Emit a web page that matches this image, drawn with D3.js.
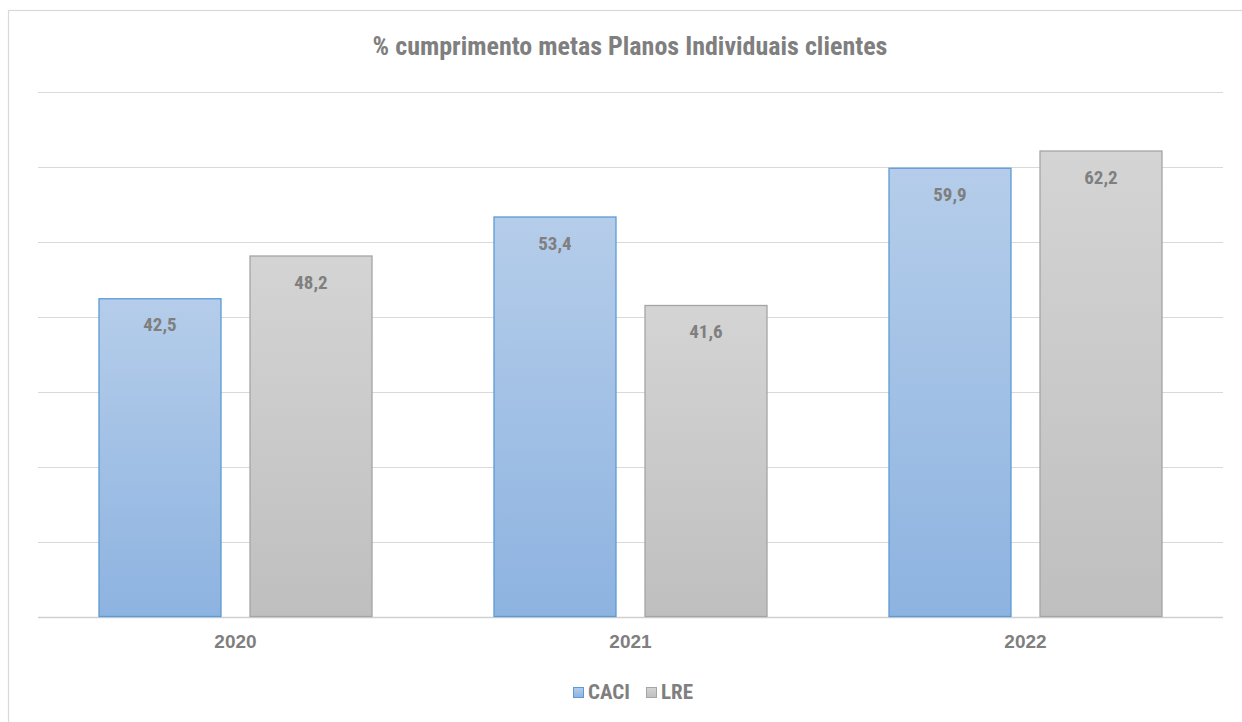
<!DOCTYPE html>
<html><head><meta charset="utf-8">
<script src="https://cdn.jsdelivr.net/npm/d3@7"></script>
<style>
body{margin:0;background:#fff;}
text{font-family:"Liberation Sans Narrow","Arial Narrow","Roboto Condensed",sans-serif;font-weight:bold;fill:#7f7f7f;}
</style></head>
<body><svg id="c" width="1242" height="722"></svg>
<script>
const title = "% cumprimento metas Planos Individuais clientes";
const categories = ["2020","2021","2022"];
const seriesNames = ["CACI","LRE"];
const caciValues = [42.5, 53.4, 59.9];
const lreValues = [48.2, 41.6, 62.2];
const yTicks = [0,10,20,30,40,50,60,70];

(function(){
const svg = d3.select("#c");
const defs = svg.append("defs");
const grads = [
  {id:"gC", top:"#b5cdea", bot:"#8db3e0", stroke:"#5b9bd5"},
  {id:"gL", top:"#d4d4d4", bot:"#bfbfbf", stroke:"#a5a5a5"}
];
grads.forEach(g=>{
  const lg = defs.append("linearGradient").attr("id",g.id).attr("x1",0).attr("y1",0).attr("x2",0).attr("y2",1);
  lg.append("stop").attr("offset","0%").attr("stop-color",g.top);
  lg.append("stop").attr("offset","100%").attr("stop-color",g.bot);
});

// outer border
svg.append("rect").attr("x",8.5).attr("y",10.5).attr("width",1250).attr("height",720)
  .attr("fill","none").attr("stroke","#d9d9d9").attr("stroke-width",1.2);

const pLeft=38, pRight=1223, pTop=92, pBottom=617;
const x = d3.scaleBand().domain(categories).range([pLeft,pRight]).paddingInner(0).paddingOuter(0);
const y = d3.scaleLinear().domain([0,70]).range([pBottom,pTop]);
const xs = d3.scaleBand().domain(seriesNames).range([0,274]).paddingInner(28/151);

// gridlines
svg.append("g").selectAll("line").data(yTicks).join("line")
  .attr("x1",pLeft).attr("x2",pRight).attr("y1",d=>Math.round(y(d))+0.5).attr("y2",d=>Math.round(y(d))+0.5)
  .attr("stroke",d=>d===0?"#d0d0d0":"#d9d9d9").attr("stroke-width",d=>d===0?1.5:1);

svg.append("text").attr("x",630).attr("y",55).attr("text-anchor","middle").attr("font-size",26).text(title);

const data = [];
categories.forEach((c,i)=>{
  data.push({cat:c, s:"CACI", v:caciValues[i], g:grads[0]});
  data.push({cat:c, s:"LRE", v:lreValues[i], g:grads[1]});
});
const off = (x.bandwidth()-274)/2;
const bars = svg.append("g");
bars.selectAll("rect").data(data).join("rect")
  .attr("x",d=>x(d.cat)+off+xs(d.s)+0.5)
  .attr("y",d=>y(d.v)+0.5)
  .attr("width",xs.bandwidth()-1)
  .attr("height",d=>y(0)-y(d.v)-1)
  .attr("fill",d=>`url(#${d.g.id})`)
  .attr("stroke",d=>d.g.stroke).attr("stroke-width",1.3);
bars.selectAll("text").data(data).join("text")
  .attr("x",d=>x(d.cat)+off+xs(d.s)+xs.bandwidth()/2)
  .attr("y",d=>y(d.v)+33)
  .attr("text-anchor","middle").attr("font-size",19)
  .text(d=>d.v.toFixed(1).replace(".",","));

// x axis labels
const xAxis = svg.append("g").attr("transform",`translate(0,${pBottom})`)
  .call(d3.axisBottom(x).tickSize(0).tickPadding(18));
xAxis.select(".domain").remove();
xAxis.selectAll("text").attr("font-size",19).attr("fill","#7f7f7f")
  .style("font-family",'"Liberation Sans Narrow","Arial Narrow",sans-serif').style("font-weight","bold");

// legend
const leg = svg.append("g");
const legItems = [{n:"CACI",g:grads[0],x:573},{n:"LRE",g:grads[1],x:646}];
legItems.forEach(it=>{
  leg.append("rect").attr("x",it.x+0.5).attr("y",687.5).attr("width",10).attr("height",10)
    .attr("fill",`url(#${it.g.id})`).attr("stroke",it.g.stroke).attr("stroke-width",1);
  leg.append("text").attr("x",it.x+15).attr("y",699).attr("font-size",21).text(it.n);
});
})();
</script></body></html>
